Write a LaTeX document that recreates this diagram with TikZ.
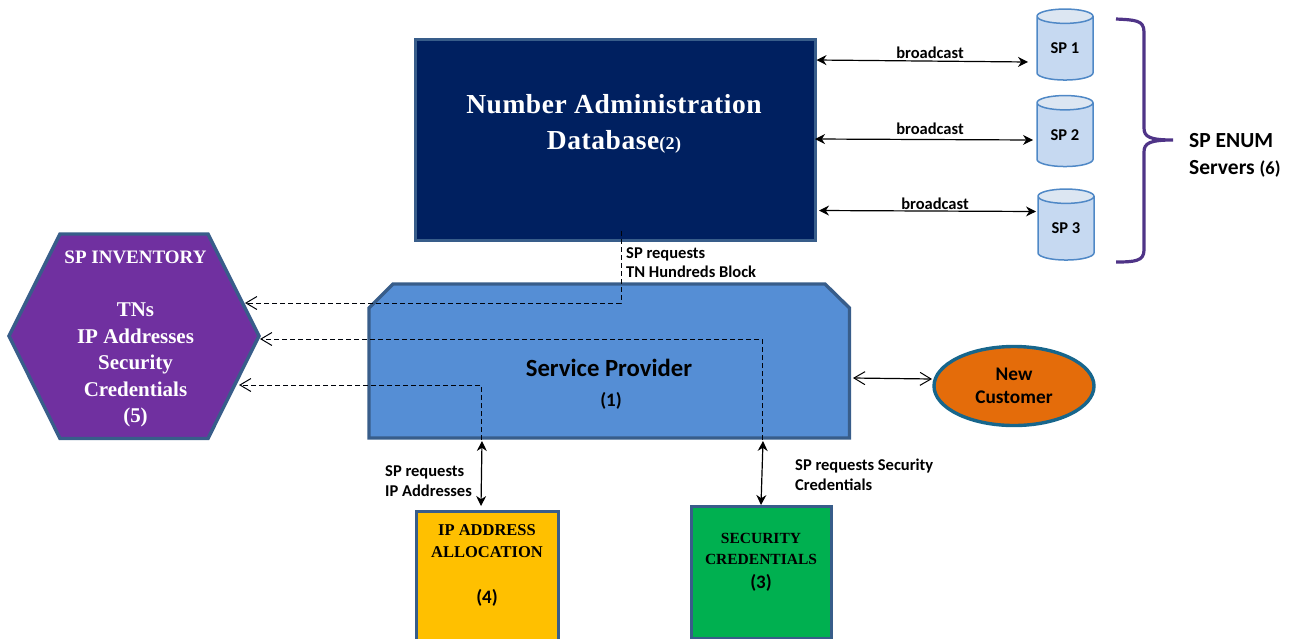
\documentclass[tikz,border=0pt]{standalone}
\usepackage{fontspec}
\setmainfont{Carlito}
\newfontfamily\serifb{Liberation Serif}[LetterSpace=2]
\newfontfamily\serifc{Liberation Serif}
\usetikzlibrary{arrows.meta,shapes.geometric}
\definecolor{navy}{HTML}{002060}
\definecolor{edgeblue}{HTML}{385D8A}
\definecolor{spblue}{HTML}{558ED5}
\definecolor{purp}{HTML}{7030A0}
\definecolor{yel}{HTML}{FFC000}
\definecolor{grn}{HTML}{00B050}
\definecolor{org}{HTML}{E46C0A}
\definecolor{elledge}{HTML}{17668C}
\definecolor{cylbody}{HTML}{C6D9F1}
\definecolor{cyltop}{HTML}{DCE6F2}
\definecolor{cyledge}{HTML}{4F88C6}
\definecolor{brace}{HTML}{4F3487}
\tikzset{
  x=1pt,y=-1pt,
  shapeline/.style={draw=edgeblue,line width=3.4pt,line join=miter},
  boxnode/.style={shapeline,rectangle,inner sep=0pt,anchor=north west},
  label15/.style={font=\bfseries\fontsize{16.5}{19.6}\selectfont,inner sep=0pt,align=left,anchor=west,text=black},
  cyl/.style={cylinder,shape border rotate=90,aspect=0.5,draw=cyledge,line width=1.5pt,cylinder uses custom fill,
    cylinder body fill=cylbody,cylinder end fill=cyltop,minimum width=56pt,minimum height=71pt,inner sep=0pt,
    font=\bfseries\fontsize{16.5}{18}\selectfont},
  twoway/.style={line width=1.2pt,black,{Stealth[length=10pt,width=10pt]}-{Stealth[length=10pt,width=10pt]}},
  openway/.style={line width=1.2pt,black,{Straight Barb[length=11pt,width=13pt,line width=1pt]}-{Straight Barb[length=11pt,width=13pt,line width=1pt]}},
  dashline/.style={line width=1pt,black!90!navy,dash pattern=on 5pt off 3pt,-{Straight Barb[length=11pt,width=13pt,line width=1pt]}},
}
\begin{document}
\begin{tikzpicture}
\useasboundingbox (0,0) rectangle (1294,638);
% Database
\node[boxnode,fill=navy,minimum width=400pt,minimum height=201.5pt] (db) at (413.5,37.5) {};
\node[text=white,align=center,inner sep=0pt,font=\serifb\bfseries\fontsize{27.5}{36}\selectfont] (dbtext) at (614,123.5)
  {Number Administration\\Database{\fontsize{18}{18}\selectfont(2)}};
% Service Provider
\coordinate (spa) at (369,308);
\coordinate (spb) at (393,284);
\coordinate (spc) at (825,284);
\coordinate (spd) at (849.5,308);
\coordinate (spe) at (849.5,438);
\coordinate (spf) at (369,438);
\draw[shapeline,fill=spblue] (spa) -- (spb) -- (spc) -- (spd) -- (spe) -- (spf) -- cycle;
\node[font=\bfseries\fontsize{24.7}{28}\selectfont,inner sep=0pt,text=black] (sptext) at (609,368) {Service Provider};
\node[font=\bfseries\fontsize{19}{22}\selectfont,inner sep=0pt,text=black] (spnum) at (611,401) {(1)};
% Hexagon
\coordinate (hexl) at (9,336);
\coordinate (hextl) at (60,234);
\coordinate (hextr) at (208,234);
\coordinate (hexr) at (259,336);
\coordinate (hexbr) at (208,438.5);
\coordinate (hexbl) at (60,438.5);
\draw[shapeline,fill=purp] (hexl) -- (hextl) -- (hextr) -- (hexr) -- (hexbr) -- (hexbl) -- cycle;
\node[text=white,align=center,inner sep=0pt,font=\serifc\bfseries\fontsize{21}{26.5}\selectfont] (hextext) at (135.5,339)
  {{\fontsize{19}{26.5}\selectfont SP INVENTORY}\\[26.5pt]TNs\\IP Addresses\\Security\\Credentials\\(5)};
% Boxes
\node[boxnode,fill=yel,minimum width=142pt,minimum height=142pt] (ipbox) at (415,509.5) {};
\node[align=center,inner sep=0pt,font=\serifc\bfseries\fontsize{16.5}{22}\selectfont,text=black] (iptext) at (487,541)
  {IP ADDRESS\\ALLOCATION};
\node[font=\bfseries\fontsize{19}{22}\selectfont,inner sep=0pt,text=black] (ipnum) at (487,598) {(4)};
\node[boxnode,fill=grn,minimum width=140pt,minimum height=132pt] (secbox) at (690,504.5) {};
\node[align=center,inner sep=0pt,font=\serifc\bfseries\fontsize{15.5}{21}\selectfont,text=black] (sectext) at (761,549)
  {SECURITY\\CREDENTIALS};
\node[font=\bfseries\fontsize{19}{22}\selectfont,inner sep=0pt,text=black] (secnum) at (761,583) {(3)};
% Customer
\node[ellipse,draw=elledge,line width=3.4pt,fill=org,minimum width=160pt,minimum height=79pt,inner sep=0pt,align=center,
  font=\bfseries\fontsize{19.3}{23}\selectfont,text=black] (cust) at (1014,386) {\rule{0pt}{2pt}New\\Customer};
% Cylinders
\node[cyl] (sp1) at (1065,48.5) {\raisebox{-1pt}{SP 1}};
\node[cyl] (sp2) at (1065,135) {SP 2};
\node[cyl] (sp3) at (1066,228.5) {SP 3};
% Brace
\coordinate (bracetop) at (1116,19);
\coordinate (bracetip) at (1173,140);
\coordinate (bracebot) at (1116,262);
\draw[draw=brace,line width=3.2pt] (bracetop) .. controls (1135,20) and (1144,20) .. (1144,32)
  -- (1144,128) .. controls (1144,137) and (1150,140) .. (bracetip)
  .. controls (1150,140) and (1144,143) .. (1144,152) -- (1144,250)
  .. controls (1144,261) and (1135,262) .. (bracebot);
\node[font=\bfseries\fontsize{21.5}{27}\selectfont,inner sep=0pt,align=left,anchor=west,text=black] (enum) at (1189,155)
  {SP ENUM\\Servers {\fontsize{18.5}{18}\selectfont(6)}};
% Ports
\coordinate (d1) at (816.5,60);  \coordinate (c1) at (1028,62);
\coordinate (d2) at (815,139);   \coordinate (c2) at (1033,140);
\coordinate (d3) at (819,210.5); \coordinate (c3) at (1036,211.5);
\draw[twoway] (d1) -- (c1);
\draw[twoway] (d2) -- (c2);
\draw[twoway] (d3) -- (c3);
\node[label15,anchor=center] (b1) at (930,53) {broadcast};
\node[label15,anchor=center] (b2) at (930,129) {broadcast};
\node[label15,anchor=center] (b3) at (935,204) {broadcast};
% Dashed
\coordinate (dbout) at (621,231);
\coordinate (dbturn) at (621,303);
\coordinate (hexin1) at (245,303);
\coordinate (secout) at (762,440);
\coordinate (secturn) at (762,339);
\coordinate (hexin2) at (260,339);
\coordinate (ipout) at (481,440);
\coordinate (ipturn) at (481,385);
\coordinate (hexin3) at (239,385);
\draw[dashline] (dbout) -- (dbturn) -- (hexin1);
\draw[dashline] (secout) -- (secturn) -- (hexin2);
\draw[dashline] (ipout) -- (ipturn) -- (hexin3);
% Vertical two-way
\coordinate (ipa) at (482,441); \coordinate (ipb) at (481,506);
\coordinate (seca) at (763,441); \coordinate (secb) at (761,505);
\draw[twoway] (ipa) -- (ipb);
\draw[twoway] (seca) -- (secb);
\coordinate (cl) at (853,378); \coordinate (cr) at (932,379);
\draw[openway] (cl) -- (cr);
% Labels
\node[label15] (l1) at (626,262.5) {SP requests\\TN Hundreds Block};
\node[label15] (l2) at (385,481) {SP requests\\IP Addresses};
\node[label15] (l3) at (795,474.5) {SP requests Security\\Credentials};
\end{tikzpicture}
\end{document}
